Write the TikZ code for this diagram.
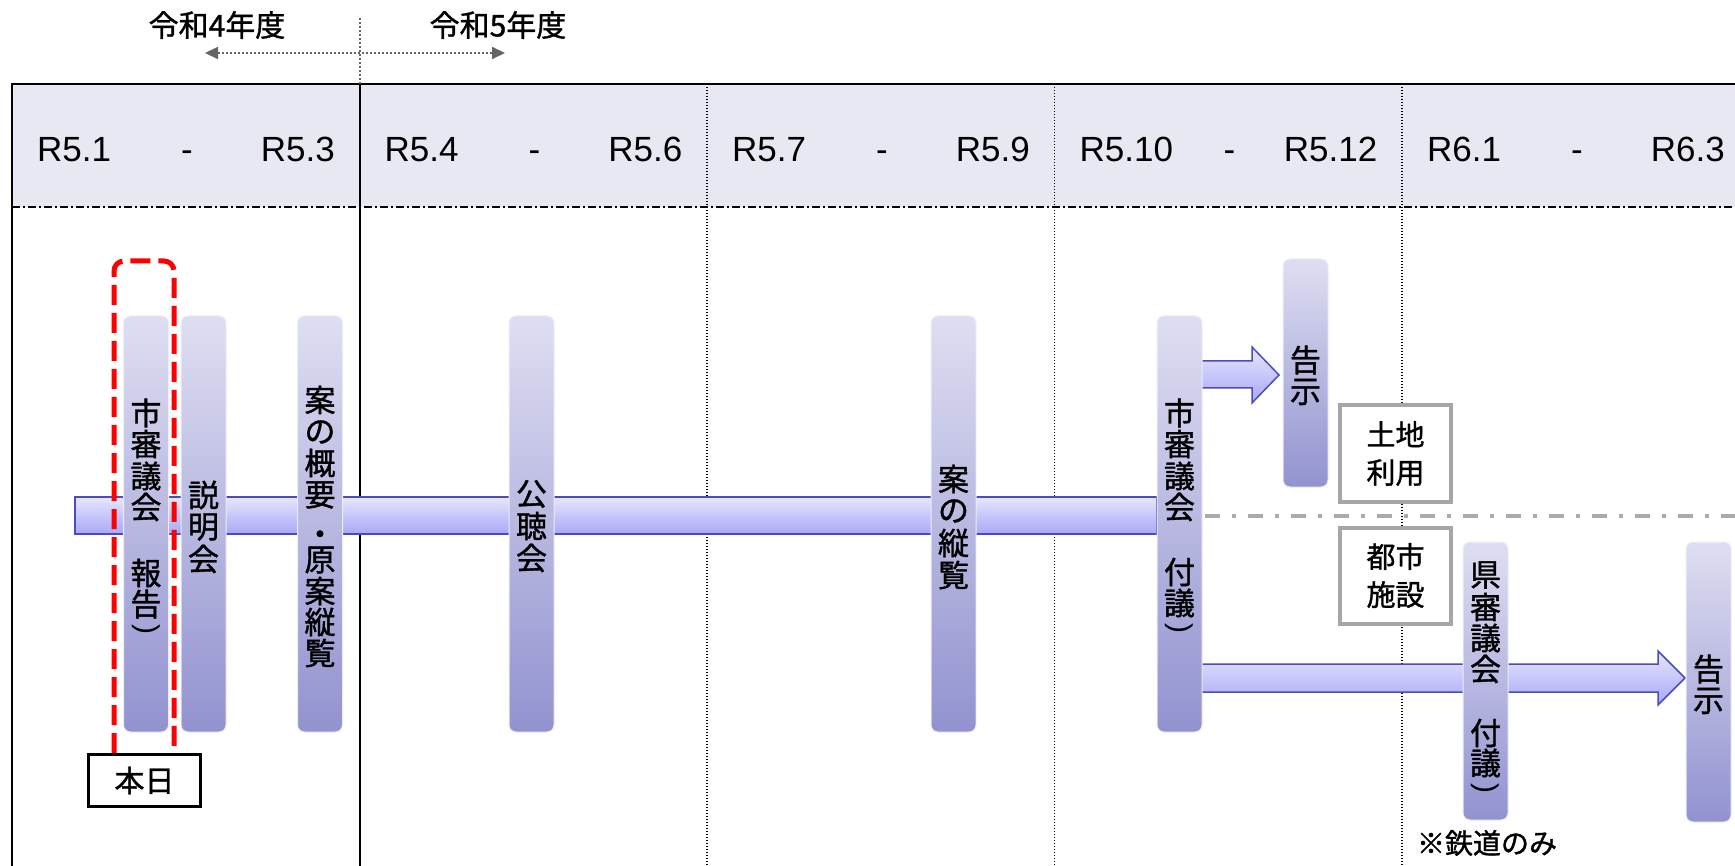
\documentclass[tikz,border=0pt]{standalone}
\usepackage{fontspec}
\usetikzlibrary{arrows.meta}
\newfontfamily\jp[FakeBold=1.2]{Noto Sans CJK JP}
\newfontfamily\lat{Liberation Sans}
\definecolor{hdrfill}{RGB}{232,232,242}
\definecolor{bartop}{RGB}{222,222,242}
\definecolor{barbot}{RGB}{146,146,208}
\definecolor{baredge}{RGB}{236,236,248}
\definecolor{bandtop}{RGB}{230,230,255}
\definecolor{bandbot}{RGB}{168,168,245}
\definecolor{bandline}{RGB}{75,75,190}
\definecolor{boxgray}{RGB}{166,166,166}
\definecolor{dashgray}{RGB}{170,170,170}
\definecolor{yrgray}{RGB}{100,100,100}
\newcommand\vcol[3]{\foreach \ch/\yy [count=\k] in {#3} {\node[jpc] (#1c\k) at (#2,\yy) {\ch};}}
\newcommand\vparen[3]{\node[font=\lat\fontsize{30}{30}\selectfont, inner sep=0pt, rotate=-90] (#1) at (#2,#3) {)};}
\begin{document}
\begin{tikzpicture}[x=1pt,y=-1pt,
  tbar/.style={rounded corners=7pt, top color=bartop, bottom color=barbot, draw=baredge, line width=1pt, minimum width=45pt, inner sep=0pt},
  jpc/.style={font=\jp\fontsize{31}{31}\selectfont, inner sep=0pt},
  hdrlbl/.style={font=\lat\fontsize{35}{35}\selectfont, inner sep=0pt},
  yearlbl/.style={font=\jp\fontsize{30}{30}\selectfont, inner sep=0pt},
  coldot/.style={line width=1.4pt, dash pattern=on 1.4pt off 1.6pt},
  bandsty/.style={draw=bandline, line width=1.5pt, top color=bandtop, bottom color=bandbot, inner sep=0pt},
  arrowsty/.style={draw=bandline, line width=1.5pt, top color=bandtop, bottom color=bandbot},
  gbox/.style={draw=boxgray, line width=4pt, fill=white, minimum width=111pt, minimum height=96pt, align=center, inner sep=0pt, font=\jp\fontsize{29}{38}\selectfont},
  todaybox/.style={draw=black, line width=3pt, fill=white, minimum width=112pt, minimum height=52pt, inner sep=0pt, font=\jp\fontsize{30}{30}\selectfont}]
\useasboundingbox (0,0) rectangle (1735,866);
% header band and grid
\fill[hdrfill] (12,84) rectangle (1735,207);
\draw[line width=2.5pt] (12,84) -- (1735,84);
\draw[line width=2pt] (12,83) -- (12,866);
\draw[line width=2pt] (359.5,84) -- (359.5,866);
\foreach \xx in {707,1054.5,1402} \draw[coldot] (\xx,84) -- (\xx,866);
\draw[line width=1.8pt, dash pattern=on 8pt off 3pt on 2pt off 3pt] (12,207) -- (1735,207);
\foreach \L/\a/\b [count=\i] in {12/R5.1/R5.3, 359.5/R5.4/R5.6, 707/R5.7/R5.9, 1054.5/R5.10/R5.12, 1402/R6.1/R6.3} {
  \node[hdrlbl, anchor=base west] (h\i a) at (\L+25,162) {\a};
  \node[hdrlbl, anchor=base] (h\i d) at (\L+175,162) {-};
  \node[hdrlbl, anchor=base east] (h\i b) at (\L+323,162) {\b};
}
% fiscal years
\node[yearlbl] (fy4) at (217,25) {令和4年度};
\node[yearlbl] (fy5) at (498,25) {令和5年度};
\coordinate (yarL) at (205,53);
\coordinate (yarR) at (505,53);
\coordinate (ydT) at (359.5,18);
\coordinate (ydB) at (359.5,84);
\draw[yrgray, line width=2pt, dash pattern=on 2pt off 2pt, {Triangle[length=13pt,width=12pt]}-{Triangle[length=13pt,width=12pt]}] (yarL) -- (yarR);
\draw[yrgray, line width=2pt, dash pattern=on 2pt off 2pt] (ydT) -- (ydB);
% main timeline band
\node[bandsty, minimum width=1082pt, minimum height=37pt] (band) at (616,515.5) {};
% land-use / facilities separator
\coordinate (sepL) at (1205,516);
\coordinate (sepR) at (1735,516);
\draw[dashgray, line width=4pt, dash pattern=on 15pt off 12pt on 4pt off 12pt] (sepL) -- (sepR);
% arrows from city council
\draw[arrowsty] (1190,361) -- (1252,361) -- (1252,347) -- (1279,375) -- (1252,403) -- (1252,388) -- (1190,388) -- cycle;
\draw[arrowsty] (1190,664) -- (1658,664) -- (1658,651) -- (1685,678) -- (1658,705) -- (1658,692) -- (1190,692) -- cycle;
% bars
\node[tbar, minimum height=416pt] (b1) at (146,524) {};
\node[tbar, minimum height=416pt] (b2) at (203.5,524) {};
\node[tbar, minimum height=416pt] (b3) at (320,524) {};
\node[tbar, minimum height=416pt] (b4) at (531.5,524) {};
\node[tbar, minimum height=416pt] (b5) at (953.5,524) {};
\node[tbar, minimum height=416pt] (b6) at (1179.5,524) {};
\node[tbar, minimum height=228pt] (b7) at (1305.5,373) {};
\node[tbar, minimum height=278pt] (b8) at (1485.5,681) {};
\node[tbar, minimum height=280pt] (b9) at (1708.5,682) {};
% vertical texts
\vcol{b1}{146}{市/413,審/444,議/476,会/507,報/573,告/604}
\vparen{b1p}{146}{629}
\vcol{b2}{203.5}{説/495,明/527,会/559}
\vcol{b3}{320}{案/400,の/432,概/463,要/495,・/538,原/560,案/591,縦/622,覧/653}
\vcol{b4}{531.5}{公/494,聴/526,会/558}
\vcol{b5}{953.5}{案/479,の/511,縦/543,覧/575}
\vcol{b6}{1179.5}{市/413,審/444,議/476,会/507,付/572,議/603}
\vparen{b6p}{1179.5}{628}
\vcol{b7}{1305.5}{告/360,示/392}
\vcol{b8}{1485.5}{県/575,審/607,議/638,会/669,付/733,議/763}
\vparen{b8p}{1485.5}{788}
\vcol{b9}{1708.5}{告/669,示/701}
% category boxes
\node[gbox] (landuse) at (1395.5,453.5) {土地\\利用};
\node[gbox] (facility) at (1395.5,575.5) {都市\\施設};
\node[font=\jp\fontsize{28}{28}\selectfont, inner sep=0pt] (rail) at (1487,843) {※鉄道のみ};
% today marker
\node[todaybox] (today) at (144.5,780.5) {本日};
\draw[red, line width=5pt, dash pattern=on 20pt off 8pt, rounded corners=10pt] (114,753) -- (114,261) -- (174,261) -- (174,753);
\end{tikzpicture}
\end{document}
